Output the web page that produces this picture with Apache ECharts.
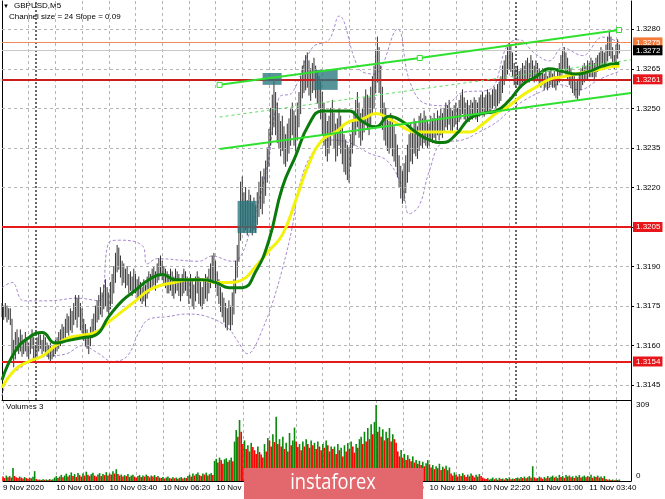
<!DOCTYPE html>
<html><head><meta charset="utf-8">
<script src="https://cdn.jsdelivr.net/npm/echarts@6/dist/echarts.min.js"></script>
<style>html,body{margin:0;padding:0;background:#fff}#c{width:665px;height:499px}</style>
</head><body><div id="c"></div>
<script>
// ---- data (M5 bars, index 0 = 9 Nov 22:20) ----
const xLabels = ['9 Nov 2020','10 Nov 01:00','10 Nov 03:40','10 Nov 06:20','10 Nov 09:00','10 Nov 11:40','10 Nov 14:20','10 Nov 17:00','10 Nov 19:40','10 Nov 22:20','11 Nov 01:00','11 Nov 03:40'];
const priceTicks = [1.3145,1.3160,1.3175,1.3190,1.3205,1.3220,1.3235,1.3250,1.3265,1.3280];
const highs = [
1.3176,1.3175,1.3176,1.3175,1.3174,1.3174,1.3170,1.3162,1.3165,1.3166,
1.3163,1.3166,1.3164,1.3162,1.3165,1.3163,1.3161,1.3164,1.3166,1.3163,
1.3160,1.3163,1.3165,1.3164,1.3162,1.3164,1.3163,1.3161,1.3160,1.3161,
1.3159,1.3160,1.3162,1.3163,1.3165,1.3166,1.3168,1.3167,1.3170,1.3172,
1.3171,1.3174,1.3173,1.3176,1.3179,1.3178,1.3179,1.3176,1.3174,1.3170,
1.3168,1.3166,1.3163,1.3167,1.3170,1.3172,1.3175,1.3177,1.3179,1.3182,
1.3180,1.3183,1.3185,1.3182,1.3180,1.3184,1.3187,1.3190,1.3195,1.3198,
1.3197,1.3194,1.3192,1.3191,1.3189,1.3190,1.3187,1.3188,1.3186,1.3189,
1.3187,1.3185,1.3186,1.3184,1.3182,1.3185,1.3183,1.3186,1.3188,1.3187,
1.3189,1.3190,1.3188,1.3191,1.3193,1.3194,1.3192,1.3190,1.3189,1.3188,
1.3187,1.3189,1.3188,1.3186,1.3189,1.3188,1.3187,1.3185,1.3187,1.3189,
1.3188,1.3186,1.3185,1.3187,1.3185,1.3183,1.3186,1.3188,1.3186,1.3184,
1.3182,1.3185,1.3187,1.3186,1.3189,1.3191,1.3194,1.3195,1.3192,1.3188,
1.3185,1.3182,1.3180,1.3178,1.3176,1.3174,1.3177,1.3175,1.3180,1.3185,
1.3192,1.3198,1.3205,1.3222,1.3224,1.3218,1.3220,1.3215,1.3219,1.3217,
1.3214,1.3216,1.3213,1.3218,1.3222,1.3226,1.3224,1.3227,1.3230,1.3235,
1.3242,1.3250,1.3255,1.3260,1.3256,1.3252,1.3248,1.3245,1.3247,1.3243,
1.3240,1.3244,1.3246,1.3250,1.3252,1.3249,1.3247,1.3252,1.3256,1.3262,
1.3266,1.3268,1.3270,1.3271,1.3268,1.3265,1.3267,1.3269,1.3266,1.3264,
1.3262,1.3260,1.3256,1.3252,1.3248,1.3245,1.3247,1.3250,1.3253,1.3248,
1.3244,1.3246,1.3250,1.3247,1.3243,1.3240,1.3238,1.3236,1.3235,1.3240,
1.3245,1.3249,1.3253,1.3256,1.3252,1.3248,1.3250,1.3254,1.3257,1.3255,
1.3254,1.3258,1.3262,1.3266,1.3272,1.3277,1.3273,1.3266,1.3258,1.3252,
1.3250,1.3247,1.3245,1.3248,1.3246,1.3243,1.3240,1.3236,1.3232,1.3228,
1.3226,1.3229,1.3232,1.3236,1.3240,1.3244,1.3242,1.3246,1.3245,1.3243,
1.3247,1.3248,1.3246,1.3249,1.3247,1.3245,1.3244,1.3247,1.3246,1.3248,
1.3246,1.3249,1.3247,1.3250,1.3248,1.3250,1.3252,1.3251,1.3253,1.3250,
1.3249,1.3251,1.3252,1.3250,1.3253,1.3255,1.3257,1.3254,1.3252,1.3253,
1.3251,1.3253,1.3252,1.3254,1.3253,1.3252,1.3254,1.3255,1.3256,1.3254,
1.3255,1.3257,1.3256,1.3255,1.3257,1.3258,1.3257,1.3259,1.3260,1.3262,
1.3266,1.3268,1.3270,1.3273,1.3275,1.3274,1.3271,1.3267,1.3265,1.3266,
1.3264,1.3265,1.3267,1.3266,1.3268,1.3269,1.3267,1.3270,1.3268,1.3266,
1.3268,1.3267,1.3265,1.3264,1.3265,1.3263,1.3264,1.3262,1.3264,1.3265,
1.3263,1.3264,1.3262,1.3265,1.3267,1.3270,1.3272,1.3273,1.3271,1.3269,
1.3266,1.3265,1.3263,1.3262,1.3260,1.3261,1.3263,1.3265,1.3266,1.3267,
1.3266,1.3268,1.3267,1.3269,1.3268,1.3267,1.3269,1.3270,1.3271,1.3273,
1.3272,1.3271,1.3274,1.3277,1.3279,1.3277,1.3273,1.3270,1.3274,1.3276,1.3274];
const lows = [
1.3171,1.3170,1.3171,1.3169,1.3170,1.3168,1.3156,1.3152,1.3155,1.3158,
1.3157,1.3158,1.3156,1.3157,1.3158,1.3156,1.3155,1.3157,1.3159,1.3155,
1.3154,1.3156,1.3158,1.3159,1.3157,1.3158,1.3157,1.3156,1.3155,1.3154,
1.3155,1.3156,1.3157,1.3158,1.3159,1.3160,1.3161,1.3162,1.3163,1.3165,
1.3164,1.3166,1.3165,1.3168,1.3170,1.3167,1.3171,1.3166,1.3165,1.3162,
1.3160,1.3159,1.3157,1.3160,1.3163,1.3164,1.3166,1.3169,1.3170,1.3172,
1.3171,1.3174,1.3175,1.3173,1.3172,1.3174,1.3176,1.3180,1.3184,1.3188,
1.3189,1.3186,1.3183,1.3184,1.3182,1.3183,1.3180,1.3181,1.3179,1.3181,
1.3180,1.3178,1.3178,1.3177,1.3176,1.3177,1.3175,1.3178,1.3180,1.3181,
1.3182,1.3183,1.3181,1.3184,1.3185,1.3187,1.3185,1.3183,1.3182,1.3180,
1.3180,1.3181,1.3179,1.3178,1.3180,1.3181,1.3179,1.3177,1.3179,1.3180,
1.3181,1.3179,1.3176,1.3178,1.3175,1.3174,1.3177,1.3180,1.3176,1.3175,
1.3174,1.3176,1.3178,1.3177,1.3180,1.3182,1.3184,1.3185,1.3182,1.3179,
1.3176,1.3173,1.3171,1.3169,1.3167,1.3166,1.3168,1.3166,1.3168,1.3172,
1.3180,1.3186,1.3192,1.3200,1.3205,1.3203,1.3204,1.3202,1.3205,1.3203,
1.3202,1.3204,1.3203,1.3206,1.3209,1.3212,1.3210,1.3214,1.3217,1.3222,
1.3228,1.3236,1.3240,1.3243,1.3240,1.3237,1.3235,1.3232,1.3234,1.3229,
1.3228,1.3230,1.3233,1.3236,1.3240,1.3236,1.3234,1.3238,1.3243,1.3248,
1.3254,1.3256,1.3257,1.3258,1.3255,1.3253,1.3256,1.3257,1.3254,1.3252,
1.3250,1.3246,1.3240,1.3236,1.3232,1.3230,1.3233,1.3236,1.3240,1.3235,
1.3230,1.3232,1.3236,1.3233,1.3229,1.3226,1.3225,1.3223,1.3222,1.3228,
1.3233,1.3236,1.3240,1.3243,1.3239,1.3236,1.3238,1.3241,1.3244,1.3242,
1.3240,1.3244,1.3248,1.3250,1.3256,1.3260,1.3256,1.3248,1.3242,1.3238,
1.3236,1.3234,1.3233,1.3235,1.3232,1.3230,1.3228,1.3224,1.3220,1.3216,
1.3214,1.3215,1.3218,1.3222,1.3226,1.3230,1.3229,1.3233,1.3232,1.3231,
1.3234,1.3236,1.3235,1.3237,1.3236,1.3235,1.3236,1.3238,1.3237,1.3239,
1.3237,1.3240,1.3238,1.3240,1.3239,1.3241,1.3243,1.3242,1.3244,1.3241,
1.3241,1.3243,1.3244,1.3242,1.3245,1.3246,1.3248,1.3246,1.3245,1.3246,
1.3245,1.3246,1.3246,1.3247,1.3246,1.3245,1.3247,1.3248,1.3249,1.3247,
1.3248,1.3249,1.3249,1.3248,1.3250,1.3251,1.3250,1.3251,1.3252,1.3253,
1.3256,1.3259,1.3261,1.3263,1.3265,1.3264,1.3262,1.3259,1.3258,1.3259,
1.3258,1.3259,1.3260,1.3260,1.3261,1.3261,1.3260,1.3262,1.3261,1.3260,
1.3261,1.3261,1.3259,1.3258,1.3259,1.3257,1.3258,1.3257,1.3258,1.3259,
1.3258,1.3258,1.3257,1.3259,1.3260,1.3262,1.3264,1.3265,1.3263,1.3261,
1.3259,1.3258,1.3256,1.3255,1.3254,1.3253,1.3255,1.3257,1.3259,1.3260,
1.3261,1.3261,1.3262,1.3262,1.3262,1.3261,1.3262,1.3264,1.3265,1.3266,
1.3266,1.3265,1.3267,1.3268,1.3270,1.3269,1.3266,1.3265,1.3267,1.3269,1.3271];
const volumes = [
18,12,22,15,20,14,53,20,15,12,18,14,10,16,12,9,14,11,17,40,
8,5,6,4,7,5,6,4,8,5,7,
14,20,12,18,25,15,22,30,18,24,35,20,28,16,32,
24,18,30,22,38,25,20,28,34,22,18,26,32,20,28,24,36,22,30,26,40,30,48,
28,22,26,18,24,20,28,16,22,25,18,14,20,24,16,22,18,26,20,15,22,18,24,16,20,14,
12,16,10,14,18,12,10,15,11,14,9,13,16,10,14,12,
20,26,18,30,22,28,35,24,20,30,26,34,22,28,32,24,
82,90,75,95,85,70,88,92,78,85,95,80,
160,207,180,248,200,
150,165,130,145,120,155,138,125,110,140,118,108,95,
150,120,175,165,140,190,158,261,150,170,
140,180,130,155,120,195,145,165,217,160,138,150,
125,160,140,170,150,135,165,145,155,130,160,140,125,150,135,165,145,120,140,130,
140,110,150,125,135,100,145,120,154,130,160,140,115,150,135,170,180,150,
200,160,215,170,230,190,240,309,
200,220,180,210,165,200,175,215,160,190,170,155,
120,100,126,95,110,85,105,90,80,100,75,85,
70,82,65,78,60,72,85,68,
55,65,48,60,52,70,45,58,50,62,44,55,
30,22,35,25,18,28,20,32,24,16,26,19,30,22,15,25,18,28,20,14,
10,8,12,6,9,14,7,11,5,13,8,10,6,12,9,15,7,10,8,12,
14,10,16,12,18,11,15,20,13,60,
15,10,12,18,14,9,16,11,20,13,17,22,14,18,12,25,16,20,13,24,
18,22,15,19,12,21,16,24,14,18,22,15,20,17,25,13,19,16,22,14,
18,12,20,8,5,7,4,6,3,5,4,6];
const volMax = 309;
const maIdx = [0,8,16,24,32,40,48,56,64,72,80,88,96,104,112,120,128,136,144,152,160,168,176,184,192,200,208,216,224,232,240,248,256,264,272,280,288,296,304,312,320,328,336,344,352,360,368,370];
const maGreen = [1.3147,1.3158,1.3163,1.3165,1.3161,1.3162,1.3163,1.3164,1.3171,1.3177,1.3181,1.3185,1.3187,1.3185,1.3185,1.3185,1.3184,1.3182,1.3182,1.3188,1.3200,1.3220,1.3232,1.3244,1.3249,1.3249,1.3249,1.3245,1.3243,1.3247,1.3245,1.3241,1.3238,1.3237,1.3240,1.3246,1.3248,1.3249,1.3253,1.3259,1.3262,1.3265,1.3264,1.3263,1.3264,1.3266,1.3267,1.3267];
const maYellow = [1.3144,1.3151,1.3154,1.3156,1.3160,1.3163,1.3164,1.3165,1.3169,1.3173,1.3177,1.3181,1.3183,1.3184,1.3185,1.3185,1.3184,1.3184,1.3185,1.3190,1.3196,1.3202,1.3215,1.3229,1.3238,1.3241,1.3245,1.3246,1.3248,1.3246,1.3243,1.3241,1.3241,1.3241,1.3241,1.3241,1.3244,1.3248,1.3251,1.3255,1.3258,1.3261,1.3262,1.3263,1.3264,1.3265,1.3266,1.3266];
const bandUpper = [[0,1.3182],[6,1.3184],[13,1.3177],[28,1.3177],[45,1.3178],[58,1.3177],[64,1.3199],[70,1.3200],[84,1.3198],[87,1.3191],[93,1.3193],[118,1.3192],[126,1.3194],[138,1.3192],[142,1.3193],[147,1.3200],[159,1.3228],[166,1.3254],[174,1.3256],[186,1.3273],[196,1.3276],[202,1.3285],[214,1.3265],[223,1.3263],[237,1.3280],[244,1.3261],[253,1.3252],[265,1.3251],[276,1.3256],[292,1.3257],[303,1.3274],[310,1.3276],[319,1.3271],[328,1.3268],[336,1.3273],[348,1.3270],[360,1.3277],[370,1.3275]];
const bandLower = [[0,1.3141],[4,1.3148],[12,1.3152],[18,1.3155],[28,1.3156],[39,1.3157],[48,1.3160],[58,1.3157],[66,1.3154],[75,1.3156],[82,1.3165],[88,1.3170],[99,1.3171],[111,1.3172],[123,1.3171],[135,1.3167],[142,1.3161],[147,1.3157],[150,1.3158],[156,1.3166],[162,1.3176],[168,1.3189],[174,1.3205],[178,1.3220],[186,1.3233],[196,1.3238],[208,1.3237],[220,1.3233],[231,1.3230],[240,1.3220],[244,1.3210],[250,1.3213],[256,1.3226],[264,1.3237],[276,1.3238],[286,1.3241],[297,1.3245],[304,1.3249],[313,1.3253],[322,1.3256],[334,1.3259],[346,1.3257],[358,1.3261],[370,1.3264]];
const channelUpper = [[130.4,1.32589],[250.4,1.32691],[369.8,1.32797]];
const channelMiddle = [[130.4,1.32467],[377,1.32684]];
const channelLower = [[130.4,1.32346],[377,1.32558]];
const zones = [[141.2,152.6,1.32027,1.32149],[156.2,167.6,1.32589,1.32634],[187.4,201.2,1.32570,1.32646]];
const levelValues = [1.3275,1.3272,1.3261,1.3205,1.3154];
const daySeparators = [20,308];
const title1 = 'GBPUSD,M5';
const title2 = 'Channel size = 24 Slope = 0.09';
const volTitle = 'Volumes 3';
const watermark = 'instaforex';

// ---- styles ----
const FONT = '"Liberation Sans", Arial, sans-serif';
const levelStyles = [
  {line:'#f08a5a', w:1, bg:'#f47a3a', fg:'#fff'},
  {line:'#c8c8c8', w:1, bg:'#000', fg:'#fff'},
  {line:'#c81e1e', w:2, bg:'#e8161b', fg:'#fff'},
  {line:'#e51a1a', w:2, bg:'#e8161b', fg:'#fff'},
  {line:'#e51a1a', w:2, bg:'#e8161b', fg:'#fff'}
];
const gridColor = '#b5b5b5';

const chart = echarts.init(document.getElementById('c'), null, {renderer:'canvas'});
const barData = highs.map((h,i)=>[i, lows[i], h]);
const volData = volumes.map((v,i)=>[i, v]);
const zip = (xs, ys) => xs.map((x,k)=>[x, ys[k]]);

const option = {
  animation:false,
  backgroundColor:'#fff',
  textStyle:{fontFamily:FONT},
  grid:[
    {left:2, right:34, top:1, height:399},
    {left:2, right:34, top:400, height:81}
  ],
  xAxis:[
    {type:'value', gridIndex:0, min:0, max:377, interval:16,
     axisLine:{show:true, onZero:false, lineStyle:{color:'#000', width:1}}, axisTick:{show:false}, axisLabel:{show:false},
     splitLine:{show:true, lineStyle:{color:gridColor, type:[3,3], width:1}}},
    {type:'value', gridIndex:1, min:0, max:377, interval:16,
     axisLine:{show:true, onZero:false, lineStyle:{color:'#000', width:1}}, axisTick:{show:false},
     axisLabel:{show:true, align:'left', margin:3, fontSize:8, color:'#000', fontFamily:FONT,
       formatter:v=>{ const k=v/32; return (Number.isInteger(k) && k<xLabels.length)? xLabels[k] : ''; }},
     splitLine:{show:true, lineStyle:{color:gridColor, type:[3,3], width:1}}}
  ],
  yAxis:[
    {type:'value', gridIndex:0, position:'right', min:1.31394, max:1.32907,
     axisLine:{show:true, onZero:false, lineStyle:{color:'#000'}},
     axisTick:{show:true, length:3, customValues:priceTicks, lineStyle:{color:'#000'}},
     axisLabel:{customValues:priceTicks, formatter:v=>v.toFixed(4), fontSize:8, color:'#000', margin:5, fontFamily:FONT},
     splitLine:{show:false}},
    {type:'value', gridIndex:1, position:'right', min:0, max:329,
     axisLine:{show:true, onZero:false, lineStyle:{color:'#000'}}, axisTick:{show:false},
     axisLabel:{customValues:[0, volMax], fontSize:8, color:'#000', margin:5, fontFamily:FONT,
       formatter:v=> v===0 ? '{b|0}' : String(v), rich:{b:{fontSize:8, padding:[0,0,10,0]}}},
     splitLine:{show:false}},
    {type:'value', gridIndex:0, position:'left', min:1.31394, max:1.32907, show:true,
     axisLine:{show:true, onZero:false, lineStyle:{color:'#000'}}, axisTick:{show:false}, axisLabel:{show:false}, splitLine:{show:false}}
  ],
  series:[
    { // grid lines & day separators
      type:'line', xAxisIndex:0, yAxisIndex:0, z:1, data:[[0, priceTicks[3]]], showSymbol:false, lineStyle:{width:0}, silent:true,
      markLine:{silent:true, symbol:'none', animation:false, precision:6, label:{show:false},
        data:[
          ...priceTicks.map(v=>({yAxis:v, lineStyle:{color:gridColor, type:[3,3], width:1}})),
          ...daySeparators.map(v=>({xAxis:v, lineStyle:{color:'#444', type:[2,2], width:1.6}}))
        ]}
    },
    {type:'line', xAxisIndex:0, yAxisIndex:0, z:2, data:bandUpper, smooth:0.4, showSymbol:false, silent:true,
     lineStyle:{color:'#a98ad0', width:1, type:[3,2]}},
    {type:'line', xAxisIndex:0, yAxisIndex:0, z:2, data:bandLower, smooth:0.4, showSymbol:false, silent:true,
     lineStyle:{color:'#a98ad0', width:1, type:[3,2]}},
    { // price bars
      type:'custom', xAxisIndex:0, yAxisIndex:0, z:3, data:barData, encode:{x:0, y:[1,2]}, silent:true,
      renderItem:(params, api)=>{
        const p1 = api.coord([api.value(0), api.value(1)]);
        const p2 = api.coord([api.value(0), api.value(2)]);
        return {type:'line', shape:{x1:p1[0], y1:p1[1]+0.5, x2:p2[0], y2:p2[1]-0.5}, style:{stroke:'#333', lineWidth:1}};
      }
    },
    { // level lines
      type:'line', xAxisIndex:0, yAxisIndex:0, z:4, data:[[0, levelValues[0]]], showSymbol:false, lineStyle:{width:0}, silent:true,
      markLine:{silent:true, symbol:'none', animation:false, precision:6,
        data: levelValues.map((v,k)=>({yAxis:v, lineStyle:{color:levelStyles[k].line, width:levelStyles[k].w, type:'solid'},
          label:{show:true, position:'end', distance:2, formatter:v.toFixed(4), fontSize:8, fontFamily:FONT,
            color:levelStyles[k].fg, backgroundColor:levelStyles[k].bg, padding:[1,2,1,3]}}))
      }
    },
    {type:'line', xAxisIndex:0, yAxisIndex:0, z:5, data:zip(maIdx, maYellow), smooth:0.5, showSymbol:false, silent:true,
     lineStyle:{color:'#f2f20a', width:3}},
    {type:'line', xAxisIndex:0, yAxisIndex:0, z:6, data:zip(maIdx, maGreen), smooth:0.5, showSymbol:false, silent:true,
     lineStyle:{color:'#0a7a0a', width:3}},
    { // teal zones
      type:'custom', xAxisIndex:0, yAxisIndex:0, z:7, data:zones, silent:true,
      encode:{x:[0,1], y:[2,3]},
      renderItem:(params, api)=>{
        const a = api.coord([api.value(0), api.value(3)]);
        const b = api.coord([api.value(1), api.value(2)]);
        return {type:'rect', shape:{x:a[0], y:a[1], width:b[0]-a[0], height:b[1]-a[1]}, style:{fill:'rgba(38,118,126,0.78)'}};
      }
    },
    {type:'line', xAxisIndex:0, yAxisIndex:0, z:8, data:channelMiddle, showSymbol:false, silent:true,
     lineStyle:{color:'#5ee05e', width:1, type:[3,3]}},
    {type:'line', xAxisIndex:0, yAxisIndex:0, z:8, data:channelLower, showSymbol:false, silent:true,
     lineStyle:{color:'#2fe02f', width:2}},
    {type:'line', xAxisIndex:0, yAxisIndex:0, z:9, data:channelUpper, showSymbol:true, symbol:'rect', symbolSize:5, silent:true,
     itemStyle:{color:'#fff', borderColor:'#2fe02f', borderWidth:1}, lineStyle:{color:'#2fe02f', width:2}},
    { // volumes
      type:'bar', xAxisIndex:1, yAxisIndex:1, data:volData, barWidth:1.6, silent:true,
      itemStyle:{color:p=> (p.dataIndex>0 && volumes[p.dataIndex] > volumes[p.dataIndex-1]) ? '#0a8a0a' : '#ff0000'}
    }
  ],
  graphic:[
    {type:'text', left:3, top:3, style:{text:'\u25BC', fontSize:6, fill:'#000'}},
    {type:'text', left:14, top:2, style:{text:title1, fontSize:8, fontFamily:FONT, fill:'#000'}},
    {type:'text', left:9, top:13, style:{text:title2, fontSize:8, fontFamily:FONT, fill:'#000'}},
    {type:'text', left:6, top:403, style:{text:volTitle, fontSize:8, fontFamily:FONT, fill:'#000'}},
    {type:'rect', left:244, top:468, z:100, shape:{width:179, height:31}, style:{fill:'#e2686e'}},
    {type:'text', z:101, x:333, y:483, scaleX:0.87, style:{text:watermark, fontSize:21, fontFamily:'"Open Sans", sans-serif', fill:'#fff', align:'center', verticalAlign:'middle'}}
  ]
};
chart.setOption(option);
</script></body></html>
